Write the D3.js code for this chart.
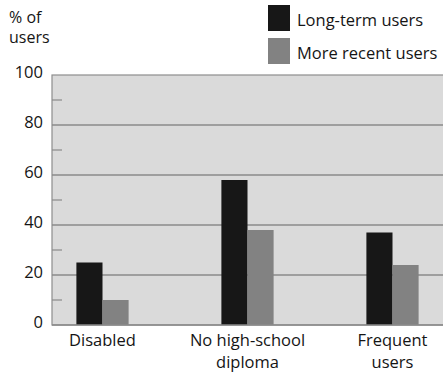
<!DOCTYPE html>
<html>
<head>
<meta charset="utf-8">
<script src="https://cdn.jsdelivr.net/npm/d3@7/dist/d3.min.js"></script>
<style>
  html, body { margin: 0; padding: 0; background: #fff; }
  svg { display: block; }
  text { font-family: "Open Sans", "Noto Sans", sans-serif; fill: #151515; }
</style>
</head>
<body>
<svg id="chart" width="443" height="373"></svg>
<script>
// Share of users by group
const categories = [["Disabled"], ["No high-school", "diploma"], ["Frequent", "users"]];
const seriesNames = ["Long-term users", "More recent users"];
const longTerm = [25, 58, 37];
const moreRecent = [10, 38, 24];
const yTicks = [0, 20, 40, 60, 80, 100];
const yMinorTicks = [10, 30, 50, 70, 90];
const yLabel = ["% of", "users"];

const colors = ["#171717", "#828282"];
const fontSize = 16.5;
const svg = d3.select("#chart");

const plot = { left: 52, right: 445, top: 75, bottom: 325 };

const keys = categories.map(c => c.join(" "));
const x = d3.scaleBand().domain(keys).range([30, 465])
  .paddingInner(0.64).paddingOuter(0.32);
const xs = d3.scaleBand().domain(seriesNames).range([0, x.bandwidth()]);
const y = d3.scaleLinear().domain([0, 100]).range([plot.bottom, plot.top]);

// plot background
svg.append("rect")
  .attr("x", plot.left).attr("y", plot.top)
  .attr("width", plot.right - plot.left).attr("height", plot.bottom - plot.top)
  .attr("fill", "#dadada").attr("stroke", "#8e8e8e").attr("stroke-width", 1.2);

// gridlines
svg.append("g").selectAll("line").data(yTicks.filter(t => t > 0 && t < 100)).join("line")
  .attr("x1", plot.left).attr("x2", plot.right)
  .attr("y1", d => y(d)).attr("y2", d => y(d))
  .attr("stroke", "#8a8a8a").attr("stroke-width", 1.3);

// minor ticks
svg.append("g").selectAll("line").data(yMinorTicks).join("line")
  .attr("x1", plot.left).attr("x2", plot.left + 10)
  .attr("y1", d => y(d)).attr("y2", d => y(d))
  .attr("stroke", "#8a8a8a").attr("stroke-width", 1.2);

// y tick labels
svg.append("g").selectAll("text").data(yTicks).join("text")
  .attr("x", 43).attr("y", d => y(d) - 3)
  .attr("dy", "0.35em")
  .attr("text-anchor", "end")
  .attr("font-size", fontSize)
  .text(d => d);

// y axis title, two separate lines
svg.append("g").selectAll("text").data(yLabel).join("text")
  .attr("x", 9).attr("y", (d, i) => 23 + i * 20)
  .attr("font-size", 16)
  .text(d => d);

// bars
const groups = svg.append("g").selectAll("g").data(keys).join("g")
  .attr("transform", d => `translate(${x(d)},0)`);
groups.selectAll("rect")
  .data((d, i) => [longTerm[i], moreRecent[i]].map((v, j) => ({ s: seriesNames[j], v, j })))
  .join("rect")
  .attr("x", d => xs(d.s))
  .attr("y", d => y(d.v))
  .attr("width", xs.bandwidth())
  .attr("height", d => y(0) - y(d.v))
  .attr("fill", d => colors[d.j]);

// baseline
svg.append("line")
  .attr("x1", plot.left).attr("x2", plot.right)
  .attr("y1", y(0)).attr("y2", y(0))
  .attr("stroke", "#8a8a8a").attr("stroke-width", 1.3);

// category labels
svg.append("g").selectAll("text").data(categories).join("text")
  .attr("text-anchor", "middle")
  .attr("font-size", fontSize)
  .attr("y", 346)
  .each(function(lines, i) {
    const cx = x(keys[i]) + x.bandwidth() / 2;
    d3.select(this).selectAll("tspan").data(lines).join("tspan")
      .attr("x", cx).attr("dy", (d, k) => k === 0 ? 0 : 22)
      .text(d => d);
  });

// legend
const legend = svg.append("g").selectAll("g").data(seriesNames).join("g")
  .attr("transform", (d, i) => `translate(268,${5 + i * 33})`);
legend.append("rect").attr("width", 22).attr("height", 26)
  .attr("fill", (d, i) => colors[i]);
legend.append("text").attr("x", 29).attr("y", 21).attr("font-size", fontSize)
  .text(d => d);
</script>
</body>
</html>
